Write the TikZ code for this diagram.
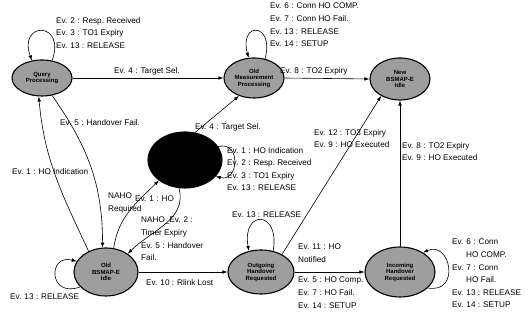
\documentclass[tikz,border=0pt]{standalone}
\usepackage{fontspec}
\setmainfont{Liberation Sans}
\usetikzlibrary{arrows.meta,shapes.geometric}

\begin{document}
\begin{tikzpicture}[x=1pt,y=1pt,
   state/.style={ellipse,draw=black,line width=1.1pt,fill=black!38,inner sep=0pt,
      align=center,font=\fontsize{6}{6.5}\selectfont\bfseries},
   evlabel/.style={inner sep=0pt,align=left,font=\fontsize{8.2}{12.6}\selectfont},
   arr/.style={line width=0.6pt,-{Latex[length=5pt,width=3.6pt]}}]
   \fill[white] (0,0) rectangle (528,328);
   \useasboundingbox (0,0) rectangle (528,328);
   % states
   \node[state,minimum width=60pt,minimum height=36pt] (qp) at (42,250) {Query\\Processing};
   \node[state,minimum width=60pt,minimum height=40pt] (om) at (254,250) {Old\\Measurement\\Processing};
   \node[state,minimum width=60pt,minimum height=42pt] (ni) at (400,249) {New\\BSMAP-E\\Idle};
   \node[state,fill=black,minimum width=74pt,minimum height=56pt] (bk) at (185,168) {};
   \node[state,minimum width=64pt,minimum height=48pt] (obi) at (106,56) {Old\\BSMAP-E\\Idle};
   \node[state,minimum width=66pt,minimum height=44pt] (ohr) at (261,56) {Outgoing\\Handover\\Requested};
   \node[state,minimum width=70pt,minimum height=50pt] (ihr) at (400,56) {Incoming\\Handover\\Requested};
   % labels
   \node[evlabel,anchor=north west] (lqp) at (56,311) {Ev. 2 : Resp.\ Received\\Ev. 3 : TO1 Expiry\\Ev. 13 : RELEASE};
   \node[evlabel,anchor=west] (ltsa) at (114,257) {Ev. 4 : Target Sel.};
   \node[evlabel,anchor=north west] (lom) at (270,325) {Ev. 6 : Conn HO COMP.\\Ev. 7 : Conn HO Fail.\\Ev. 13 : RELEASE\\Ev. 14 : SETUP};
   \node[evlabel,anchor=west] (lto) at (280,257) {Ev. 8 : TO2 Expiry};
   \node[evlabel,anchor=west] (lhf) at (60,205) {Ev. 5 : Handover Fail.};
   \node[evlabel,anchor=west] (lhi) at (12,156) {Ev. 1 : HO Indication};
   \node[evlabel,anchor=north west] (lnr) at (108,135) {NAHO\\Required};
   \node[evlabel,anchor=west] (lho) at (135,129) {Ev. 1 : HO};
   \node[evlabel,anchor=north west] (lte) at (141,111) {NAHO\_Ev. 2 :\\Timer Expiry\\Ev. 5 : Handover\\Fail.};
   \node[evlabel,anchor=west] (lrl) at (146,45) {Ev. 10 : Rlink Lost};
   \node[evlabel,anchor=west] (lrb) at (10,31) {Ev. 13 : RELEASE};
   \node[evlabel,anchor=west] (ltsb) at (195,201) {Ev. 4 : Target Sel.};
   \node[evlabel,anchor=north west] (lbk) at (227,181) {Ev. 1 : HO Indication\\Ev. 2 : Resp.\ Received\\Ev. 3 : TO1 Expiry\\Ev. 13 : RELEASE};
   \node[evlabel,anchor=west] (lrc) at (232,113) {Ev. 13 : RELEASE};
   \node[evlabel,anchor=north west] (lt3) at (314,199) {Ev. 12 : TO3 Expiry\\Ev. 9 : HO Executed};
   \node[evlabel,anchor=north west] (lt2) at (402,186) {Ev. 8 : TO2 Expiry\\Ev. 9 : HO Executed};
   \node[evlabel,anchor=north west] (lhn) at (298,84) {Ev. 11 : HO\\Notified};
   \node[evlabel,anchor=north west] (lhc) at (298,51) {Ev. 5 : HO Comp.\\Ev. 7 : HO Fail.\\Ev. 14 : SETUP};
   \node[evlabel,anchor=north west] (lih) at (452,89) {Ev. 6 : Conn\\\hspace*{14pt}HO COMP.\\Ev. 7 : Conn\\\hspace*{14pt}HO Fail.\\Ev. 13 : RELEASE\\Ev. 14 : SETUP};
   % transitions
   \draw[arr] (qp.east) -- (om.west);
   \draw[arr] (om.east) -- (ni.west);
   \draw[arr] (bk.70) -- (om.230);
   \draw[arr] (obi.130) to[out=115,in=-85] (qp.260);
   \draw[arr] (qp.300) to[out=-55,in=90] (obi.98);
   \draw[arr] (obi.72) to[out=82,in=225] (bk.218);
   \draw[arr] (bk.258) to[out=-75,in=45] (obi.40);
   \draw[arr] (obi.east) -- (ohr.west);
   \draw[arr] (ohr.east) -- (ihr.west);
   \draw[arr] (ohr.40) -- (ni.222);
   \draw[arr] (ihr.north) -- (ni.south);
   % self loops
   \draw[arr] (qp.60) .. controls +(70:42) and +(110:42) .. (qp.120);
   \draw[arr] (om.60) .. controls +(75:38) and +(105:38) .. (om.105);
   \draw[arr] (bk.22) .. controls +(15:24) and +(-15:24) .. (bk.-28);
   \draw[arr] (obi.210) .. controls +(200:34) and +(165:30) .. (obi.160);
   \draw[arr] (ohr.60) .. controls +(80:42) and +(100:42) .. (ohr.120);
   \draw[arr] (ihr.-30) .. controls +(-10:34) and +(25:30) .. (ihr.40);
\end{tikzpicture}
\end{document}
